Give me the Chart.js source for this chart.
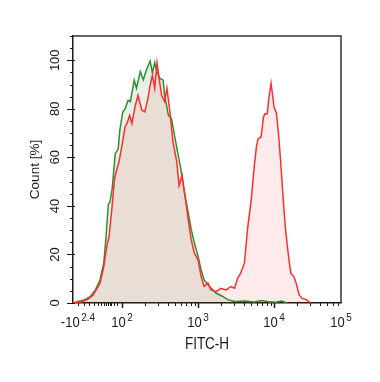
<!DOCTYPE html>
<html><head><meta charset="utf-8">
<script src="https://cdn.jsdelivr.net/npm/chart.js@4.4.0/dist/chart.umd.min.js"></script>
<style>html,body{margin:0;padding:0;background:#fff;}</style>
</head><body>
<canvas id="c" width="380" height="382" style="width:380px;height:382px;display:block"></canvas>
<script>
// FITC-H channel positions on the biexponential display, in decade units (10^k sits at k)
const greenX = [1.36,1.41,1.50,1.58,1.65,1.71,1.76,1.79,1.82,1.84,1.87,1.89,1.91,1.95,1.97,2.01,2.04,2.08,2.11,2.16,2.19,2.24,2.28,2.32,2.37,2.40,2.43,2.46,2.50,2.54,2.56,2.61,2.65,2.69,2.74,2.78,2.82,2.87,2.91,2.95,3.00,3.04,3.08,3.15,3.24,3.32,3.39,3.48,3.61,3.74,3.83,3.93,4.02,4.10,4.17];
const greenY = [0,0.5,1.2,2.6,5.4,9.5,16.5,27.5,40.7,41.5,47,54,61.4,63.5,71,78.7,80,83.5,83,91.8,88.5,95.3,92,96,99.7,94.7,99,95,92.5,91.8,85.6,77.3,76,69,60.7,54,45.6,37.3,30.3,24.9,19.2,13.7,9.5,6.8,4,2.8,1.4,0.6,0.8,0.4,1.0,0.5,0.3,0.8,0];
const redX = [1.36,1.45,1.55,1.62,1.71,1.76,1.80,1.83,1.87,1.90,1.93,1.96,2.00,2.04,2.07,2.10,2.13,2.17,2.21,2.26,2.30,2.34,2.37,2.40,2.43,2.46,2.49,2.52,2.56,2.59,2.63,2.67,2.72,2.75,2.79,2.84,2.87,2.91,2.95,3.00,3.04,3.08,3.13,3.17,3.24,3.30,3.37,3.43,3.48,3.52,3.56,3.61,3.65,3.70,3.74,3.77,3.79,3.83,3.86,3.88,3.91,3.93,3.96,3.98,4.00,4.03,4.06,4.09,4.12,4.15,4.19,4.22,4.26,4.29,4.33,4.37,4.42,4.48];
const redY = [0,0.3,1.5,3.3,8,15,23.4,27.5,40,51,55,58.2,65,72.5,74.5,77.3,74,80.8,85.6,79.4,78.7,84.2,89.8,93.9,88.5,99,92,85.6,83,88.5,78.7,66.3,58.2,48.3,52.5,41.5,34.4,26.1,20.6,17.8,10.9,6.8,8.2,5.4,4.7,6,5.4,6.8,6.1,10.2,12.3,16.5,30.3,42.7,56.6,64.9,67.6,68.5,76.6,78,78,84.2,90.5,85.6,80.5,78.4,69,56.6,42.7,30.3,19.2,12.3,10.9,8.2,3.3,1.9,1.5,0];

const xMin = 1.355, xMax = 4.88;
const xLabelPos  = [1.42, 2, 3, 4, 4.88];
const xLabelBase = ['-10', '10', '10', '10', '10'];
const xLabelExp  = ['2.4', '2', '3', '4', '5'];
const xMajorTicks = [2, 3, 4];
const xZeroTicks = [1.42, 1.50, 1.57, 1.63, 1.68, 1.72, 1.76, 1.79, 1.81, 1.82, 1.84, 1.86, 1.89, 1.93];
const yMajorTicks = [0, 20, 40, 60, 80, 100];
const yMinorTicks = [5,10,15,25,30,35,45,50,55,65,70,75,85,90,95,105,110];
const xTitle = 'FITC-H';
const yTitle = 'Count [%]';

const FONT = '"Liberation Sans", Arial, sans-serif';
const INK = '#1a1a1a';

function stretchText(ctx, s, x, y, size, sy) {
  ctx.save();
  ctx.font = size + 'px ' + FONT;
  ctx.translate(x, y);
  ctx.scale(1, sy);
  ctx.fillText(s, 0, 0);
  ctx.restore();
}

const axisDecor = {
  id: 'axisDecor',
  afterDraw(chart) {
    const {ctx, chartArea: a, scales: {x, y}} = chart;
    ctx.save();
    ctx.strokeStyle = '#333';
    ctx.lineWidth = 1.5;
    ctx.beginPath();
    ctx.moveTo(a.left, a.top);
    ctx.lineTo(a.right, a.top);
    ctx.lineTo(a.right, a.bottom);
    ctx.stroke();

    ctx.strokeStyle = INK;
    ctx.lineWidth = 1;
    yMajorTicks.forEach(v => {
      const py = Math.round(y.getPixelForValue(v)) + 0.5;
      ctx.beginPath(); ctx.moveTo(a.left - 6, py); ctx.lineTo(a.left + 2, py); ctx.stroke();
    });
    yMinorTicks.forEach(v => {
      const py = Math.round(y.getPixelForValue(v)) + 0.5;
      ctx.beginPath(); ctx.moveTo(a.left - 3, py); ctx.lineTo(a.left, py); ctx.stroke();
    });
    const minor = [];
    for (let k = 2; k <= 4; k++) for (let m = 2; m <= 9; m++) {
      const u = k + Math.log10(m);
      if (u < xMax) minor.push(u);
    }
    minor.concat(xZeroTicks).forEach(u => {
      const px = Math.round(x.getPixelForValue(u)) + 0.5;
      ctx.beginPath(); ctx.moveTo(px, a.bottom); ctx.lineTo(px, a.bottom + 3); ctx.stroke();
    });
    xMajorTicks.forEach(u => {
      const px = Math.round(x.getPixelForValue(u)) + 0.5;
      ctx.lineWidth = 1.5;
      ctx.beginPath(); ctx.moveTo(px, a.bottom); ctx.lineTo(px, a.bottom + 5); ctx.stroke();
    });

    ctx.fillStyle = INK;
    ctx.textBaseline = 'alphabetic';
    ctx.textAlign = 'left';
    xLabelPos.forEach((u, i) => {
      const px = x.getPixelForValue(u);
      ctx.font = '13px ' + FONT;
      const wb = ctx.measureText(xLabelBase[i]).width;
      ctx.font = '10px ' + FONT;
      const we = ctx.measureText(xLabelExp[i]).width;
      const gap = 1.5;
      const start = px - (wb + gap + we) / 2;
      stretchText(ctx, xLabelBase[i], start, a.bottom + 24, 13, 1.15);
      stretchText(ctx, xLabelExp[i], start + wb + gap, a.bottom + 18, 10, 1.15);
    });
    ctx.textAlign = 'center';
    stretchText(ctx, xTitle, (a.left + a.right) / 2, a.bottom + 46, 13.5, 1.2);

    ctx.textAlign = 'center';
    ctx.textBaseline = 'middle';
    ctx.font = '13px ' + FONT;
    yMajorTicks.forEach(v => {
      const py = y.getPixelForValue(v);
      ctx.save();
      ctx.translate(a.left - 18, py);
      ctx.rotate(-Math.PI / 2);
      ctx.fillText(String(v), 0, 0);
      ctx.restore();
    });
    ctx.save();
    ctx.font = '13.5px ' + FONT;
    ctx.translate(a.left - 38, (a.top + a.bottom) / 2);
    ctx.rotate(-Math.PI / 2);
    ctx.fillText(yTitle, 0, 0);
    ctx.restore();

    ctx.restore();
  }
};

new Chart(document.getElementById('c'), {
  type: 'line',
  data: {
    datasets: [
      {
        label: 'Stained',
        data: redX.map((v, i) => ({x: v, y: redY[i]})),
        borderColor: '#ff2e2e',
        backgroundColor: 'rgba(255,0,0,0.08)',
        fill: 'origin',
        borderWidth: 1.5,
        pointRadius: 0,
        tension: 0,
        order: 0
      },
      {
        label: 'Control',
        data: greenX.map((v, i) => ({x: v, y: greenY[i]})),
        borderColor: '#2a922a',
        backgroundColor: 'rgba(0,107,12,0.095)',
        fill: 'origin',
        borderWidth: 1.5,
        pointRadius: 0,
        tension: 0,
        order: 1
      }
    ]
  },
  options: {
    responsive: false,
    animation: false,
    devicePixelRatio: 1,
    layout: {padding: {top: 36, right: 39, left: 0, bottom: 0}},
    plugins: {legend: {display: false}, tooltip: {enabled: false}},
    scales: {
      x: {
        type: 'linear', min: xMin, max: xMax,
        grid: {display: false, drawTicks: false},
        ticks: {display: false},
        border: {display: true, color: INK, width: 1.5},
        afterFit(s) { s.height = 79; }
      },
      y: {
        type: 'linear', min: 0, max: 110,
        grid: {display: false, drawTicks: false},
        ticks: {display: false},
        border: {display: true, color: INK, width: 1.5},
        afterFit(s) { s.width = 73; }
      }
    }
  },
  plugins: [axisDecor]
});
</script>
</body></html>
